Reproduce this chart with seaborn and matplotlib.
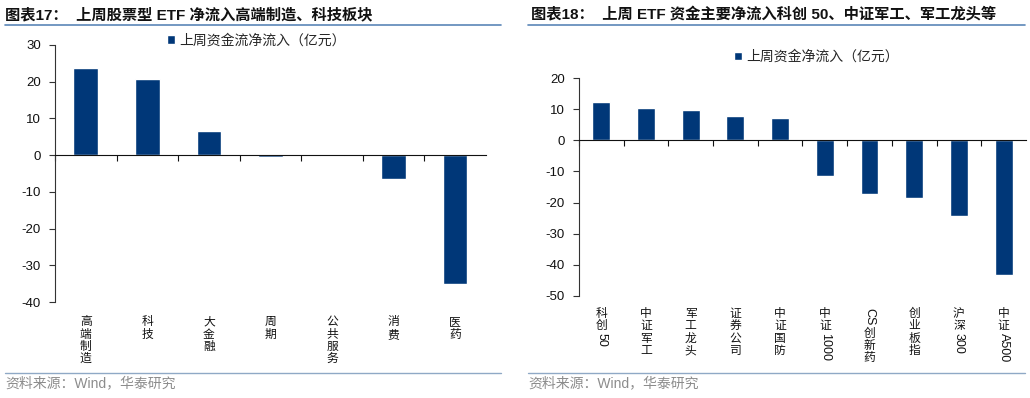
import pandas as pd
import numpy as np
import matplotlib
matplotlib.use('Agg')
import matplotlib.pyplot as plt
import seaborn as sns
from matplotlib.textpath import TextPath
from matplotlib.font_manager import FontProperties
from matplotlib.lines import Line2D

# ── data ─────────────────────────────────────────────
left_cats = ['高端制造', '科技', '大金融', '周期', '公共服务', '消费', '医药']
left_vals = [23.7, 20.6, 6.5, -0.5, -0.3, -6.6, -35.2]
left_title = '图表17：  上周股票型 ETF 净流入高端制造、科技板块'
left_label = '上周资金流净流入（亿元）'
left_ticks = [30, 20, 10, 0, -10, -20, -30, -40]

right_cats = ['科创50', '中证军工', '军工龙头', '证券公司', '中证国防',
              '中证1000', 'CS创新药', '创业板指', '沪深300', '中证A500']
right_vals = [12.3, 10.5, 9.8, 7.7, 7.0, -11.6, -17.3, -18.6, -24.4, -43.2]
right_title = '图表18：  上周 ETF 资金主要净流入科创 50、中证军工、军工龙头等'
right_label = '上周资金净流入（亿元）'
right_ticks = [20, 10, 0, -10, -20, -30, -40, -50]

source = '资料来源：Wind，华泰研究'

NAVY = '#003778'
LINE_BLUE = '#5b86b8'
FAMILY = ['Liberation Sans', 'Noto Sans CJK SC']

sns.set_style('white')
plt.rcParams['font.family'] = FAMILY
plt.rcParams['axes.unicode_minus'] = False

fig = plt.figure(figsize=(10.3, 3.98), dpi=100)


def is_cjk(ch):
    return ord(ch) > 0x2E80


def vertical_label(ax, x, text, fs, top_pts, step):
    # CJK glyphs stay upright, Latin runs are turned 90 deg, like the source
    runs = []
    for ch in text:
        if is_cjk(ch):
            runs.append((ch, True))
        elif runs and not runs[-1][1]:
            runs[-1] = (runs[-1][0] + ch, False)
        else:
            runs.append((ch, False))
    cur = top_pts
    fp = FontProperties(family=FAMILY[0], size=fs)
    for s, cjk in runs:
        if cjk:
            ax.annotate(s, xy=(x, 0), xycoords=('data', 'axes fraction'),
                        xytext=(0, -cur), textcoords='offset points',
                        ha='center', va='top', fontsize=fs,
                        family='Noto Sans CJK SC', color='#111111')
            cur += step
        else:
            w = TextPath((0, 0), s, prop=fp).get_extents().width
            ax.annotate(s, xy=(x, 0), xycoords=('data', 'axes fraction'),
                        xytext=(0, -cur - 1), textcoords='offset points',
                        ha='center', va='top', fontsize=fs + 0.5, rotation=-90,
                        color='#111111')
            cur += w + 3


def panel(rect, cats, vals, ticks, label, leg_xy, top_pts):
    ax = fig.add_axes(rect)
    df = pd.DataFrame({'cat': cats, 'val': vals})
    sns.barplot(data=df, x='cat', y='val', order=cats, color=NAVY,
                saturation=1, width=0.4, label=label, ax=ax)
    n = len(cats)
    ax.set_xlim(-0.5, n - 0.5)
    ax.set_ylim(min(ticks), max(ticks))
    ax.set_yticks(ticks)
    ax.set_yticklabels([str(t) for t in ticks], fontsize=9.5, color='#111111')
    ax.set_xticks(np.arange(n) - 0.5)
    ax.set_xticklabels([])
    ax.set_xlabel('')
    ax.set_ylabel('')
    for s in ['top', 'right']:
        ax.spines[s].set_visible(False)
    ax.spines['bottom'].set_position(('data', 0))
    ax.spines['bottom'].set_color('#111111')
    ax.spines['left'].set_color('#333333')
    ax.tick_params(axis='y', direction='out', length=4, width=0.8, left=True,
                   color='#333333', pad=6)
    ax.tick_params(axis='x', direction='out', length=4, width=0.8, bottom=True,
                   color='#111111')
    for i, c in enumerate(cats):
        vertical_label(ax, i, c, 8.5, top_pts, 8.9)
    ax.legend(loc='center left', bbox_to_anchor=leg_xy,
              bbox_transform=fig.transFigure, frameon=False,
              handlelength=0.6, handleheight=0.6, handletextpad=0.3,
              prop={'family': 'Noto Sans CJK SC', 'size': 10})
    return ax


ax1 = panel([0.0534, 0.2412, 0.4184, 0.6458], left_cats, left_vals, left_ticks,
            left_label, (0.150, 0.899), 9.5)
ax2 = panel([0.5621, 0.2563, 0.4340, 0.5477], right_cats, right_vals, right_ticks,
            right_label, (0.700, 0.857), 8)

# titles, rules and source notes
fig.text(0.005, 0.962, left_title, fontsize=11, fontweight='bold',
         va='center', ha='left', color='#111111')
fig.text(0.516, 0.962, right_title, fontsize=11, fontweight='bold',
         va='center', ha='left', color='#111111')
for x0, x1 in [(0.005, 0.486), (0.513, 0.995)]:
    fig.add_artist(Line2D([x0, x1], [0.938, 0.938], color=LINE_BLUE, lw=1.2))
    fig.add_artist(Line2D([x0, x1], [0.063, 0.063], color='#8fa9c6', lw=1.0))
fig.text(0.005, 0.036, source, fontsize=10, color='#8c8c8c', va='center')
fig.text(0.513, 0.036, source, fontsize=10, color='#8c8c8c', va='center')

plt.savefig('out.png', dpi=100)
plt.close()
